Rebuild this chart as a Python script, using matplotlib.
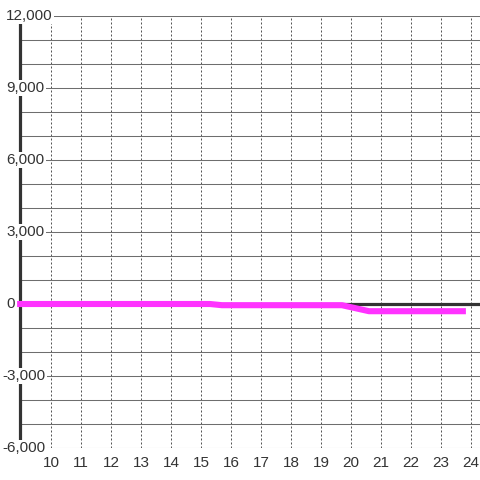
import matplotlib
matplotlib.use("Agg")
import matplotlib.pyplot as plt
from matplotlib.ticker import MultipleLocator

# data
hours  = [8.87, 15.3, 15.7, 19.7, 20.6, 23.83]
values = [0, 0, -50, -50, -300, -300]
x_ticks = list(range(10, 25))
y_major = [-6000, -3000, 0, 3000, 6000, 9000, 12000]

plt.rcParams["font.family"] = ["Liberation Sans", "DejaVu Sans"]

fig = plt.figure(figsize=(4.8, 4.8), dpi=100)
fig.patch.set_facecolor("white")
ax = fig.add_axes([20 / 480, 32 / 480, 460 / 480, 432 / 480])

ax.set_xlim(8.967, 24.3)
ax.set_ylim(-6000, 12000)

# gridlines
ax.yaxis.set_major_locator(MultipleLocator(3000))
ax.yaxis.set_minor_locator(MultipleLocator(1000))
ax.grid(axis="y", which="both", color="#6e6e6e", lw=0.75, zorder=1)
for x in x_ticks:
    ax.axvline(x, color="#555555", lw=0.72, ls=(0, (2, 2)), zorder=1)

# zero line and data
ax.axhline(0, color="#333333", lw=2.3, zorder=2)
ax.plot(hours, values, color="#ff33ff", lw=4.4, solid_capstyle="butt",
        solid_joinstyle="round", clip_on=False, zorder=4)

# spines
for s in ["top", "right", "bottom"]:
    ax.spines[s].set_visible(False)
ax.spines["left"].set_color("#333333")
ax.spines["left"].set_linewidth(2.3)
ax.spines["left"].set_zorder(3)

# ticks
ax.tick_params(axis="both", which="both", length=0)
ax.set_xticks(x_ticks)
ax.set_xticklabels([str(x) for x in x_ticks], fontsize=11, color="#333333")
ax.tick_params(axis="x", pad=6)
ax.set_yticks(y_major)
ax.set_yticklabels([])

ytrans = ax.get_yaxis_transform()
for v in y_major:
    xpos = (2 - 20) / 460 if v < 0 else (6 - 20) / 460
    ax.text(xpos, v, f"{v:,}", transform=ytrans, ha="left", va="center",
            fontsize=11, color="#333333", zorder=6, clip_on=False,
            bbox=dict(facecolor="white", edgecolor="none", pad=1))

fig.savefig("out.png", dpi=100, facecolor="white")
